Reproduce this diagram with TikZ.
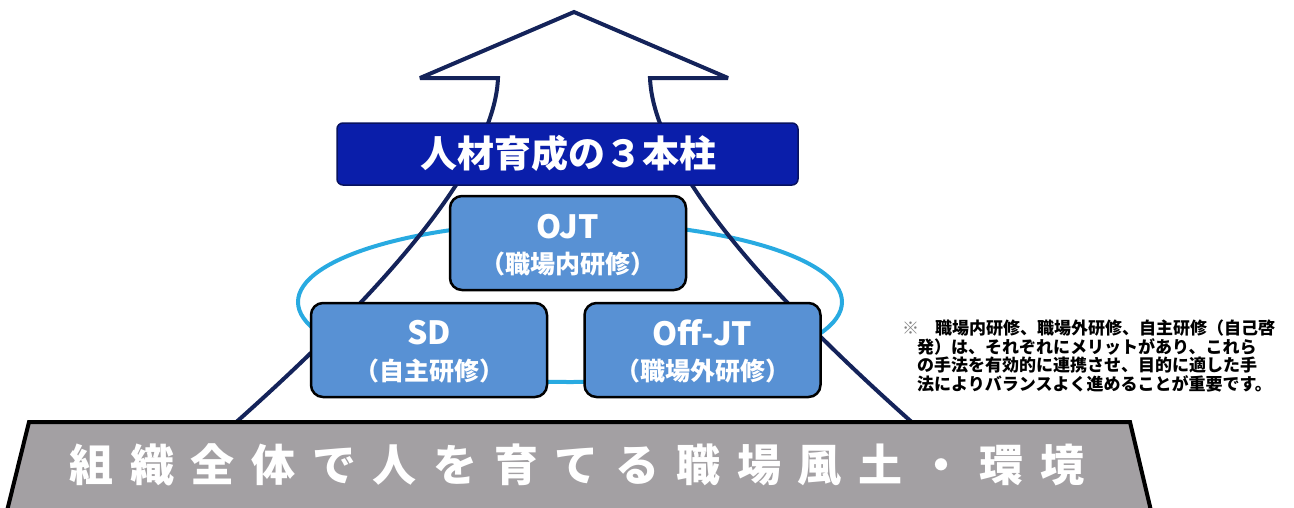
\documentclass[tikz,border=0pt]{standalone}
\usepackage{fontspec}
\newfontfamily\jp{Noto Sans CJK JP}
\definecolor{navy}{RGB}{20,35,90}
\definecolor{bannerblue}{RGB}{10,30,170}
\definecolor{bannerdark}{RGB}{8,18,95}
\definecolor{boxblue}{RGB}{88,145,212}
\definecolor{ringblue}{RGB}{40,170,225}
\definecolor{bargray}{RGB}{163,160,163}
\tikzset{
  pillar/.style={draw=black, line width=2.5pt, fill=boxblue, rounded corners=12pt,
    minimum width=236pt, minimum height=94pt, inner sep=0pt},
  latin/.style={text=white, font=\jp\bfseries\fontsize{32}{34}\selectfont, inner sep=0pt},
  kanji/.style={text=white, font=\jp\bfseries\fontsize{25}{27}\selectfont, inner sep=0pt},
  outline/.style={draw=navy, line width=4pt, line join=miter, miter limit=3},
  ring/.style={draw=ringblue, line width=4pt},
}
\begin{document}
\begin{tikzpicture}[x=1pt,y=-1pt]
\useasboundingbox (0,0) rectangle (1294,507);
% ring
\draw[ring] (570,302) ellipse [x radius=272, y radius=80];
% arrow outline
\coordinate (bl) at (233,425);
\coordinate (br) at (915,425);
\coordinate (sl) at (498,78);
\coordinate (sr) at (650,78);
\coordinate (hl) at (420,78);
\coordinate (hr) at (728,78);
\coordinate (apex) at (574,12);
\draw[outline] (bl) .. controls (340,330) and (494,180) .. (sl) -- (hl) -- (apex) -- (hr) -- (sr)
  .. controls (654,180) and (808,330) .. (br);
\draw[navy, line width=2pt] (hl) -- (sl) (sr) -- (hr);
% banner
\node[draw=bannerdark, line width=1.5pt, fill=bannerblue, rounded corners=6pt,
  minimum width=461pt, minimum height=62pt, inner sep=0pt] (banner) at (567.5,154) {};
\node[text=white, font=\jp\bfseries\fontsize{37}{39}\selectfont, inner sep=0pt] (bannertext)
  at (568,153) {人材育成の３本柱};
% pillars
\node[pillar] (ojt) at (568,243) {};
\node[pillar] (sd) at (429,350) {};
\node[pillar] (off) at (702.5,350) {};
\node[latin] (ojtA) at (568,227) {OJT};
\node[kanji] (ojtB) at (568,264) {（職場内研修）};
\node[latin] (sdA) at (429,333) {SD};
\node[kanji] (sdB) at (429,371) {（自主研修）};
\node[latin] (offA) at (702.5,333) {Off-JT};
\node[kanji] (offB) at (702.5,371) {（職場外研修）};
% bottom bar
\draw[line width=4pt, fill=bargray, line join=miter] (29,422) -- (1130,422) -- (1152,515) -- (6,515) -- cycle;
\node[text=white, font=\jp\bfseries\fontsize{44}{46}\selectfont, inner sep=0pt] (base) at (577,465)
  {\makebox[1015pt]{組\hfill 織\hfill 全\hfill 体\hfill で\hfill 人\hfill を\hfill 育\hfill て\hfill る\hfill 職\hfill 場\hfill 風\hfill 土\hfill ・\hfill 環\hfill 境}};
% note
\node[anchor=north west, align=left, inner sep=0pt, font=\jp\bfseries\fontsize{17}{18.4}\selectfont] (note) at (902,320)
  {\makebox[33pt][l]{\textcolor{gray}{※}}職場内研修、職場外研修、自主研修（自己啓\\
   \hspace*{15pt}発）は、それぞれにメリットがあり、これら\\
   \hspace*{15pt}の手法を有効的に連携させ、目的に適した手\\
   \hspace*{15pt}法によりバランスよく進めることが重要です。};
\end{tikzpicture}
\end{document}
